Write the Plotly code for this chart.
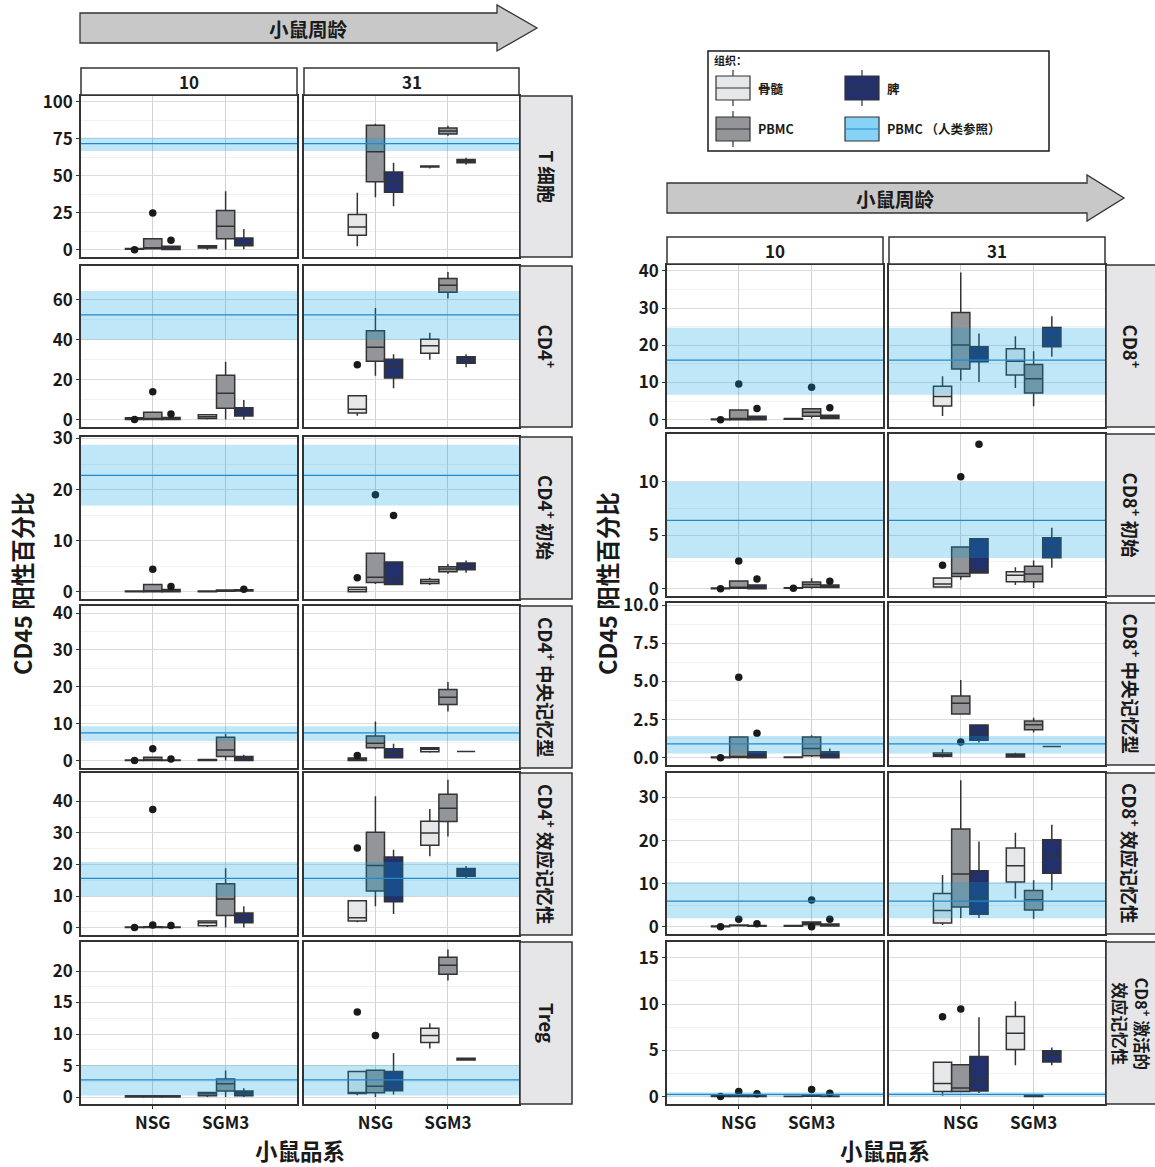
import plotly.graph_objects as go

W, H = 1155, 1167

# ---------------------------------------------------------------- data
STRAINS = ["NSG", "SGM3"]
AGES = ["10", "31"]
TISSUES = ["骨髓", "PBMC", "脾"]
REF_LABEL = "PBMC （人类参照）"

# Box statistics (lower whisker, q1, median, q3, upper whisker) in the order
# week10 NSG [骨髓, PBMC, 脾], week10 SGM3 [...], week31 NSG [...], week31 SGM3 [...]
T_CELL_BOX = [
    (0.3, 0.3, 0.5, 0.8, 0.8), (0.3, 0.7, 1.1, 7.4, 7.4), (0.0, 0.2, 1.0, 2.3, 2.3),
    (0.0, 1.1, 2.0, 2.7, 2.7), (0.0, 7.4, 15.8, 26.4, 39.5), (0.3, 2.7, 2.9, 7.9, 14.0),
    (2.3, 9.7, 15.3, 23.7, 38.4), (35.4, 45.8, 66.1, 84.0, 85.1), (29.3, 38.8, 46.7, 52.4, 58.7),
    (54.9, 55.8, 56.2, 56.6, 57.1), (77.0, 78.1, 80.1, 82.2, 83.7), (57.3, 58.7, 59.8, 60.9, 62.1),
]
T_CELL_OUT = [(0, 0.0), (1, 24.8), (2, 6.3)]
T_CELL_REF = (66.6, 71.6, 75.6)

CD4_BOX = [
    (0.1, 0.1, 0.4, 0.9, 0.9), (0.0, 0.0, 0.1, 3.7, 3.7), (0.0, 0.0, 0.3, 1.0, 1.0),
    (0.0, 0.5, 1.5, 2.5, 2.5), (0.0, 5.7, 13.2, 22.3, 29.0), (0.0, 1.8, 4.0, 6.0, 9.8),
    (2.0, 3.3, 5.2, 12.0, 12.0), (22.0, 29.3, 36.3, 44.5, 56.0), (15.7, 20.8, 26.3, 30.3, 32.8),
    (30.0, 33.3, 37.0, 40.3, 43.5), (60.7, 63.8, 67.3, 70.7, 74.0), (26.2, 28.2, 29.8, 31.5, 32.8),
]
CD4_OUT = [(0, 0.0), (1, 14.0), (2, 2.8), (6, 27.5)]
CD4_REF = (40.0, 52.5, 64.5)

CD4_NAIVE_BOX = [
    (0.0, 0.0, 0.05, 0.15, 0.15), (0.0, 0.0, 0.05, 1.4, 1.4), (0.0, 0.0, 0.2, 0.4, 0.4),
    (0.0, 0.0, 0.05, 0.15, 0.15), (0.1, 0.1, 0.2, 0.3, 0.3), (0.1, 0.15, 0.25, 0.35, 0.35),
    (0.0, 0.0, 0.4, 0.85, 0.85), (1.5, 1.8, 2.8, 7.5, 7.5), (1.4, 1.4, 2.3, 5.8, 5.8),
    (1.3, 1.6, 2.0, 2.4, 2.7), (3.5, 3.9, 4.45, 4.9, 5.4), (3.7, 4.3, 5.0, 5.6, 6.1),
]
CD4_NAIVE_OUT = [(1, 4.4), (2, 1.0), (5, 0.45), (6, 2.7), (7, 19.0), (8, 14.9)]
CD4_NAIVE_REF = (16.9, 22.8, 28.8)

CD4_CM_BOX = [
    (0.0, 0.0, 0.05, 0.15, 0.15), (0.0, 0.0, 0.2, 0.9, 0.9), (0.0, 0.0, 0.05, 0.15, 0.15),
    (0.0, 0.0, 0.1, 0.3, 0.3), (0.0, 1.1, 2.9, 6.3, 7.2), (0.0, 0.05, 0.6, 1.1, 1.6),
    (0.0, 0.05, 0.3, 0.7, 0.7), (3.1, 3.5, 4.7, 6.7, 10.6), (0.8, 0.8, 2.0, 3.2, 4.6),
    (2.1, 2.4, 3.1, 3.5, 3.7), (13.3, 15.2, 17.2, 19.3, 21.3), (2.5, 2.5, 2.5, 2.5, 2.5),
]
CD4_CM_OUT = [(0, 0.0), (1, 3.2), (2, 0.45), (6, 1.4)]
CD4_CM_REF = (5.3, 7.5, 9.3)

CD4_EM_BOX = [
    (0.0, 0.0, 0.05, 0.2, 0.2), (0.0, 0.0, 0.1, 0.3, 0.3), (0.0, 0.0, 0.05, 0.2, 0.2),
    (0.2, 0.6, 1.5, 2.1, 2.1), (0.0, 3.8, 9.1, 13.9, 18.8), (0.0, 1.5, 3.5, 4.6, 6.8),
    (1.7, 2.1, 3.1, 8.5, 8.5), (6.8, 11.6, 19.7, 30.2, 41.6), (4.3, 8.2, 15.5, 22.4, 24.7),
    (22.6, 26.1, 30.0, 33.7, 37.6), (28.9, 33.6, 37.8, 42.3, 46.9), (15.6, 16.3, 17.4, 18.7, 19.5),
]
CD4_EM_OUT = [(0, 0.0), (1, 0.8), (1, 37.4), (2, 0.7), (6, 25.2)]
CD4_EM_REF = (9.9, 15.6, 20.8)

TREG_BOX = [
    (0.0, 0.0, 0.05, 0.2, 0.2), (0.0, 0.0, 0.05, 0.2, 0.2), (0.0, 0.0, 0.05, 0.2, 0.2),
    (0.0, 0.2, 0.5, 0.74, 0.74), (0.0, 0.95, 2.1, 2.85, 4.2), (0.0, 0.2, 0.6, 0.95, 1.4),
    (0.3, 0.58, 0.74, 4.06, 4.06), (0.0, 0.69, 1.7, 4.27, 4.27), (0.4, 1.0, 2.1, 4.06, 7.0),
    (7.7, 8.65, 9.76, 10.9, 11.7), (18.5, 19.5, 20.9, 22.2, 23.4), (5.9, 5.9, 6.0, 6.15, 6.15),
]
TREG_OUT = [(6, 13.5), (7, 9.76)]
TREG_REF = (0.26, 2.74, 5.07)

CD8_BOX = [
    (0.0, 0.0, 0.05, 0.15, 0.15), (0.0, 0.0, 0.3, 2.6, 2.6), (0.0, 0.0, 0.5, 0.9, 0.9),
    (0.1, 0.1, 0.2, 0.3, 0.3), (0.3, 0.9, 2.0, 2.9, 2.9), (0.1, 0.3, 0.8, 1.2, 1.2),
    (1.0, 3.7, 6.2, 9.0, 11.7), (10.5, 13.6, 20.1, 28.8, 39.6), (10.1, 15.6, 18.1, 19.6, 23.2),
    (8.5, 12.0, 15.7, 19.1, 22.4), (3.6, 7.2, 11.0, 14.8, 18.4), (16.9, 19.6, 22.3, 24.8, 27.8),
]
CD8_OUT = [(0, 0.0), (1, 9.6), (2, 3.0), (4, 8.7), (5, 3.2)]
CD8_REF = (6.7, 16.0, 24.7)

CD8_NAIVE_BOX = [
    (0.0, 0.0, 0.02, 0.05, 0.05), (0.0, 0.03, 0.12, 0.72, 0.72), (0.0, 0.0, 0.2, 0.34, 0.34),
    (0.03, 0.03, 0.06, 0.08, 0.08), (0.0, 0.12, 0.4, 0.62, 0.97), (0.1, 0.1, 0.2, 0.34, 0.34),
    (0.16, 0.16, 0.44, 1.0, 1.0), (0.84, 1.15, 1.43, 3.9, 3.9), (1.46, 1.46, 1.65, 4.67, 4.67),
    (0.34, 0.65, 1.25, 1.59, 2.0), (0.06, 0.65, 1.37, 2.09, 2.65), (1.96, 2.9, 3.86, 4.77, 5.7),
]
CD8_NAIVE_OUT = [(0, 0.0), (1, 2.6), (2, 0.9), (3, 0.03), (5, 0.69), (6, 2.2), (7, 10.5), (8, 13.55)]
CD8_NAIVE_REF = (2.87, 6.4, 10.0)

CD8_CM_BOX = [
    (0.0, 0.0, 0.02, 0.04, 0.04), (0.02, 0.02, 0.04, 1.35, 1.35), (0.0, 0.0, 0.09, 0.39, 0.39),
    (0.0, 0.01, 0.02, 0.04, 0.04), (0.04, 0.13, 0.61, 1.35, 1.48), (0.0, 0.0, 0.24, 0.39, 0.6),
    (0.02, 0.09, 0.2, 0.3, 0.55), (2.86, 2.86, 3.58, 4.04, 5.09), (1.0, 1.14, 1.68, 2.14, 2.2),
    (0.04, 0.04, 0.15, 0.24, 0.33), (1.66, 1.83, 2.16, 2.4, 2.62), (0.74, 0.74, 0.74, 0.74, 0.74),
]
CD8_CM_OUT = [(0, 0.0), (1, 5.28), (2, 1.6), (7, 1.03)]
CD8_CM_REF = (0.28, 0.9, 1.42)

CD8_EM_BOX = [
    (0.0, 0.0, 0.05, 0.15, 0.15), (0.2, 0.2, 0.3, 0.4, 0.4), (0.1, 0.1, 0.15, 0.25, 0.25),
    (0.1, 0.1, 0.2, 0.3, 0.3), (0.46, 0.46, 0.8, 1.07, 1.07), (0.15, 0.15, 0.4, 0.6, 0.6),
    (0.38, 0.84, 3.73, 7.7, 12.0), (2.0, 4.57, 12.26, 22.7, 34.0), (2.0, 2.9, 7.0, 13.0, 19.8),
    (6.55, 10.36, 14.17, 18.3, 21.8), (1.83, 3.88, 6.25, 8.38, 10.8), (8.45, 12.4, 16.3, 20.2, 23.7),
]
CD8_EM_OUT = [(0, 0.0), (1, 1.7), (2, 0.7), (4, 6.2), (4, 0.0), (5, 1.7)]
CD8_EM_REF = (1.98, 5.94, 10.36)

CD8_AEM_BOX = [
    (0.0, 0.0, 0.02, 0.08, 0.08), (0.0, 0.0, 0.03, 0.1, 0.1), (0.0, 0.0, 0.02, 0.08, 0.08),
    (0.0, 0.0, 0.01, 0.05, 0.05), (0.05, 0.05, 0.07, 0.12, 0.12), (0.0, 0.0, 0.01, 0.06, 0.06),
    (0.1, 0.54, 1.41, 3.71, 3.71), (0.54, 0.54, 0.94, 3.43, 3.43), (0.4, 0.61, 1.77, 4.33, 8.58),
    (3.39, 5.08, 6.85, 8.65, 10.3), (0.0, 0.0, 0.05, 0.15, 0.15), (3.39, 3.75, 4.5, 4.94, 5.3),
]
CD8_AEM_OUT = [(0, 0.0), (1, 0.54), (2, 0.32), (4, 0.76), (5, 0.36), (6, 8.62), (7, 9.45)]
CD8_AEM_REF = (0.04, 0.25, 0.47)

# ---------------------------------------------------------------- styling
FONT = "Noto Sans CJK SC, Noto Sans, sans-serif"
INK = "#1A1A1A"
EDGE = "#333333"
TISSUE_FILL = ["#E6E7E8", "#939598", "#22306B"]
REF_FILL = "rgba(0,160,224,0.25)"
REF_LINE = "#2189CF"
REF_KEY = "#86D3F7"
STRIP_FILL = "#E6E6E8"
ARROW_FILL = "#C8C8C8"
TICK_SIZE = 17
STRIP_SIZE = 18.5

# each row: strip label, boxes, outliers, reference band, y range, tick values, tick text, strip font size
LEFT_GRID = dict(
    cols=[(81, 297), (304, 519)], strip=(520, 572), header=(68, 95),
    rows_px=[(96, 257), (266, 427), (437, 599), (606, 768), (773, 935), (942, 1104)],
    rows=[
        ("T 细胞", T_CELL_BOX, T_CELL_OUT, T_CELL_REF, (-4.94, 103.8), [0, 25, 50, 75, 100], None, STRIP_SIZE),
        ("CD4<sup>+</sup>", CD4_BOX, CD4_OUT, CD4_REF, (-3.7, 77.0), [0, 20, 40, 60], None, STRIP_SIZE),
        ("CD4<sup>+</sup> 初始", CD4_NAIVE_BOX, CD4_NAIVE_OUT, CD4_NAIVE_REF, (-1.44, 30.3),
         [0, 10, 20, 30], None, STRIP_SIZE),
        ("CD4<sup>+</sup> 中央记忆型", CD4_CM_BOX, CD4_CM_OUT, CD4_CM_REF, (-2.0, 41.9),
         [0, 10, 20, 30, 40], None, STRIP_SIZE),
        ("CD4<sup>+</sup> 效应记忆性", CD4_EM_BOX, CD4_EM_OUT, CD4_EM_REF, (-2.35, 49.0),
         [0, 10, 20, 30, 40], None, STRIP_SIZE),
        ("Treg", TREG_BOX, TREG_OUT, TREG_REF, (-1.1, 24.6), [0, 5, 10, 15, 20], None, STRIP_SIZE),
    ],
)
RIGHT_GRID = dict(
    cols=[(667, 883), (889, 1105)], strip=(1106, 1160), header=(237, 264),
    rows_px=[(265, 427), (434, 596), (603, 765), (773, 934), (942, 1104)],
    rows=[
        ("CD8<sup>+</sup>", CD8_BOX, CD8_OUT, CD8_REF, (-1.98, 41.6), [0, 10, 20, 30, 40], None, STRIP_SIZE),
        ("CD8<sup>+</sup> 初始", CD8_NAIVE_BOX, CD8_NAIVE_OUT, CD8_NAIVE_REF, (-0.69, 14.5),
         [0, 5, 10], None, STRIP_SIZE),
        ("CD8<sup>+</sup> 中央记忆型", CD8_CM_BOX, CD8_CM_OUT, CD8_CM_REF, (-0.48, 10.15),
         [0, 2.5, 5, 7.5, 10], ["0.0", "2.5", "5.0", "7.5", "10.0"], STRIP_SIZE),
        ("CD8<sup>+</sup> 效应记忆性", CD8_EM_BOX, CD8_EM_OUT, CD8_EM_REF, (-1.7, 35.7),
         [0, 10, 20, 30], None, STRIP_SIZE),
        ("CD8<sup>+</sup> 激活的<br>效应记忆性", CD8_AEM_BOX, CD8_AEM_OUT, CD8_AEM_REF, (-0.8, 16.7),
         [0, 5, 10, 15], None, 16.5),
    ],
)

DODGE = 0.25
X_RANGE = [0.015, 2.98]


def fx(p):
    return p / W


def fy(p):
    return 1 - p / H


def box_pos(idx):
    strain = (idx // 3) % 2
    tissue = idx % 3
    return 1 + strain + (tissue - 1) * DODGE


fig = go.Figure()
layout = {}
shapes = []
annotations = []


def txt(x, y, text, size, angle=0, xanchor="center", bold=True):
    annotations.append(dict(
        x=fx(x), y=fy(y), xref="paper", yref="paper", text=text, showarrow=False,
        textangle=angle, xanchor=xanchor, yanchor="middle",
        font=dict(family=FONT, size=size, color=INK, weight="bold" if bold else "normal"),
    ))


n = 0
for grid in (LEFT_GRID, RIGHT_GRID):
    nrows = len(grid["rows"])
    for r, (label, boxes, outs, ref, yr, ticks, ticktext, strip_size) in enumerate(grid["rows"]):
        top, bot = grid["rows_px"][r]
        minor = [(a + b) / 2 for a, b in zip(ticks[:-1], ticks[1:])]
        for c in range(2):
            n += 1
            xname = "xaxis" if n == 1 else f"xaxis{n}"
            yname = "yaxis" if n == 1 else f"yaxis{n}"
            xref = "x" if n == 1 else f"x{n}"
            yref = "y" if n == 1 else f"y{n}"
            left, right = grid["cols"][c]
            bottom_row = r == nrows - 1
            layout[xname] = dict(
                domain=[fx(left), fx(right)], anchor=yref, range=X_RANGE, automargin=False,
                tickvals=[1, 2], ticktext=STRAINS, showticklabels=bottom_row,
                ticks="outside" if bottom_row else "", ticklen=3, tickcolor=EDGE, tickwidth=1.2,
                tickfont=dict(family=FONT, size=TICK_SIZE, color=INK, weight="bold"),
                showgrid=True, gridcolor="#D2D2D2", gridwidth=1, zeroline=False,
                showline=True, mirror=True, linecolor=EDGE, linewidth=1.5, fixedrange=True,
            )
            layout[yname] = dict(
                domain=[fy(bot), fy(top)], anchor=xref, range=list(yr), automargin=False,
                tickvals=ticks, ticktext=ticktext if ticktext else [str(t) for t in ticks],
                showticklabels=(c == 0), ticks="outside" if c == 0 else "", ticklen=3,
                tickcolor=EDGE, tickwidth=1.2,
                tickfont=dict(family=FONT, size=TICK_SIZE, color=INK, weight="bold"),
                showgrid=True, gridcolor="#DCDCDC", gridwidth=1, zeroline=False,
                minor=dict(tickvals=minor, showgrid=True, gridcolor="#F1F1F1", gridwidth=1, ticks=""),
                showline=True, mirror=True, linecolor=EDGE, linewidth=1.5, fixedrange=True,
            )
            # boxes for this age
            for idx in range(c * 6, c * 6 + 6):
                lo, q1, med, q3, hi = boxes[idx]
                fig.add_trace(go.Box(
                    x=[box_pos(idx)], lowerfence=[lo], q1=[q1], median=[med], q3=[q3], upperfence=[hi],
                    orientation="v", width=DODGE, whiskerwidth=0, boxpoints=False,
                    fillcolor=TISSUE_FILL[idx % 3], line=dict(color=EDGE, width=1.5),
                    xaxis=xref, yaxis=yref, showlegend=False, hoverinfo="skip",
                ))
            pts = [(box_pos(i), v) for i, v in outs if i // 6 == c]
            if pts:
                fig.add_trace(go.Scatter(
                    x=[p[0] for p in pts], y=[p[1] for p in pts], mode="markers",
                    marker=dict(size=7.5, color=INK), xaxis=xref, yaxis=yref,
                    showlegend=False, hoverinfo="skip",
                ))
            # human PBMC reference band drawn over the boxes
            shapes.append(dict(type="rect", xref=f"{xref} domain", yref=yref, x0=0, x1=1,
                               y0=ref[0], y1=ref[2], fillcolor=REF_FILL, line=dict(width=0),
                               layer="above"))
            shapes.append(dict(type="line", xref=f"{xref} domain", yref=yref, x0=0, x1=1,
                               y0=ref[1], y1=ref[1], line=dict(color=REF_LINE, width=1.3),
                               layer="above"))
        # facet strip on the right
        s0, s1 = grid["strip"]
        shapes.append(dict(type="rect", xref="paper", yref="paper", x0=fx(s0), x1=fx(s1),
                           y0=fy(bot), y1=fy(top), fillcolor=STRIP_FILL,
                           line=dict(color=EDGE, width=1.5), layer="above"))
        txt((s0 + min(s1, W)) / 2 + 1, (top + bot) / 2, label, strip_size, angle=90)
    # column headers (mouse age)
    h0, h1 = grid["header"]
    for c, (left, right) in enumerate(grid["cols"]):
        shapes.append(dict(type="rect", xref="paper", yref="paper", x0=fx(left), x1=fx(right),
                           y0=fy(h1), y1=fy(h0), fillcolor="white",
                           line=dict(color=EDGE, width=1.5), layer="above"))
        txt((left + right) / 2, (h0 + h1) / 2, AGES[c], 17)


def arrow(x0, x1, ymid, head):
    body, half = 15, 23
    pts = [(x0, ymid - body), (x1 - head, ymid - body), (x1 - head, ymid - half), (x1, ymid),
           (x1 - head, ymid + half), (x1 - head, ymid + body), (x0, ymid + body)]
    path = "M " + " L ".join(f"{fx(a):.5f},{fy(b):.5f}" for a, b in pts) + " Z"
    shapes.append(dict(type="path", xref="paper", yref="paper", path=path,
                       fillcolor=ARROW_FILL, line=dict(color=EDGE, width=1.3), layer="above"))


arrow(80, 537, 28, 40)
txt(308, 28, "小鼠周龄", 19.5)
arrow(667, 1124, 198, 37)
txt(895, 198, "小鼠周龄", 19.5)

# axis titles
txt(22, 584, "CD45 阳性百分比", 23.5, angle=-90)
txt(607, 584, "CD45 阳性百分比", 23.5, angle=-90)
txt(300, 1150, "小鼠品系", 22.5)
txt(885, 1150, "小鼠品系", 22.5)

# legend
shapes.append(dict(type="rect", xref="paper", yref="paper", x0=fx(708), x1=fx(1049),
                   y0=fy(151), y1=fy(51), fillcolor="white", line=dict(color=INK, width=1.5),
                   layer="above"))
txt(712, 60, "组织：", 11, xanchor="left")
legend_keys = [
    (716, 88, TISSUE_FILL[0], EDGE, True, TISSUES[0]),
    (845, 88, TISSUE_FILL[2], EDGE, True, TISSUES[2]),
    (716, 129, TISSUE_FILL[1], EDGE, True, TISSUES[1]),
    (845, 129, REF_KEY, REF_LINE, False, REF_LABEL),
]
for kx, ky, fill, mid, whisk, lab in legend_keys:
    if whisk:
        for ya, yb in ((ky - 18, ky - 12), (ky + 12, ky + 18)):
            shapes.append(dict(type="line", xref="paper", yref="paper", x0=fx(kx + 17), x1=fx(kx + 17),
                               y0=fy(ya), y1=fy(yb), line=dict(color=EDGE, width=1.2), layer="above"))
    shapes.append(dict(type="rect", xref="paper", yref="paper", x0=fx(kx), x1=fx(kx + 34),
                       y0=fy(ky + 12), y1=fy(ky - 12), fillcolor=fill,
                       line=dict(color=EDGE, width=1.2), layer="above"))
    shapes.append(dict(type="line", xref="paper", yref="paper", x0=fx(kx), x1=fx(kx + 34),
                       y0=fy(ky), y1=fy(ky), line=dict(color=mid, width=1.2), layer="above"))
    txt(kx + 40, ky, lab, 12.5, xanchor="left")

fig.update_layout(
    width=W, height=H, autosize=False, margin=dict(l=0, r=0, t=0, b=0, autoexpand=False),
    paper_bgcolor="white", plot_bgcolor="white", boxmode="overlay",
    font=dict(family=FONT, color=INK), shapes=shapes, annotations=annotations,
    showlegend=False, **layout,
)
fig.write_html("out.html")
